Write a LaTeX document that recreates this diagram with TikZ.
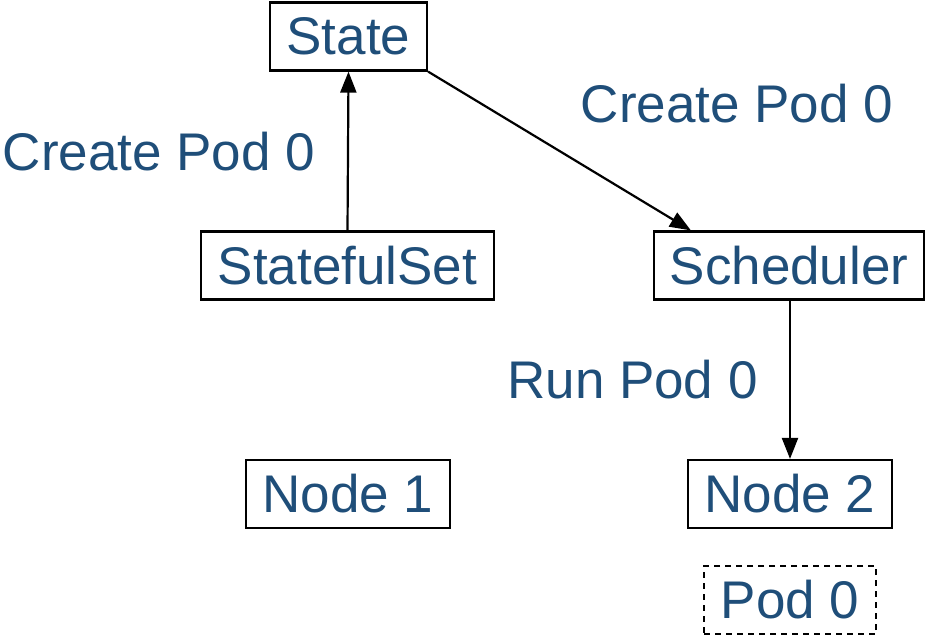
\documentclass[tikz,border=0pt]{standalone}
\usepackage{fontspec}
\setmainfont{Liberation Sans}
\usetikzlibrary{arrows.meta,calc}
\definecolor{labelblue}{HTML}{1F4E79}
\begin{document}
\begin{tikzpicture}[x=1pt,y=-1pt,
  txt/.style={font=\fontsize{53}{57}\selectfont, text=labelblue, inner sep=0pt},
  box/.style={txt, draw=black, line width=2.2pt, minimum height=68pt},
  podbox/.style={box, dashed, dash pattern=on 6pt off 5pt},
  conn/.style={line width=2.2pt, -{Triangle[length=21pt,width=16pt]}}]
  \useasboundingbox (0,0) rectangle (926,638);
  % boxes
  \node[box, minimum width=157pt] (state) at (348.5,36.5) {State};
  \node[box, minimum width=293pt] (sset) at (347.5,265.5) {StatefulSet};
  \node[box, minimum width=270pt] (sched) at (789,265.5) {Scheduler};
  \node[box, minimum width=204pt] (node1) at (348,494) {Node 1};
  \node[box, minimum width=204pt] (node2) at (790,494) {Node 2};
  \node[podbox, minimum width=172pt] (pod) at (790,600) {Pod 0};
  % labels
  \node[txt] (l1) at (159,152) {Create Pod 0};
  \node[txt] (l2) at (737,104) {Create Pod 0};
  \node[txt] (l3) at (632.5,380) {Run Pod 0};
  % connectors
  \draw[conn] (sset.north) -- (state.south);
  \coordinate (schedin) at ($(sched.north west)+(38,0)$);
  \draw[conn] (state.south east) -- (schedin);
  \draw[conn] (sched.south -| node2.north) -- (node2.north);
\end{tikzpicture}
\end{document}
